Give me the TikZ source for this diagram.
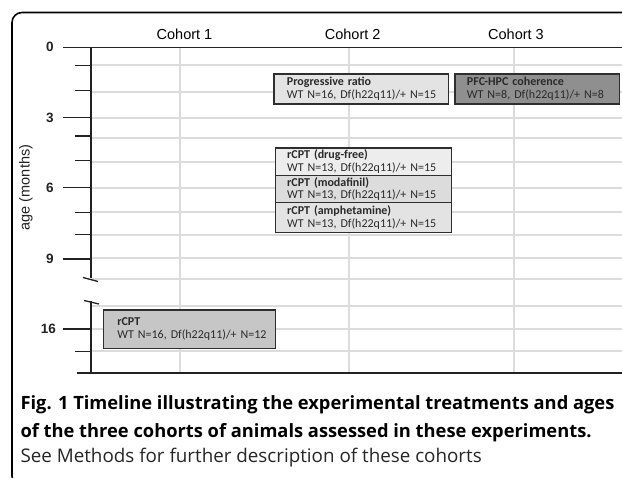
\documentclass[tikz,border=0pt]{standalone}
\usepackage{fontspec}
\setmainfont{Liberation Sans}
\newfontfamily\boxfont{Carlito}
\newfontfamily\capfont{Open Sans}
\definecolor{gridc}{HTML}{DCDCDC}
\definecolor{axisc}{HTML}{222222}
\definecolor{boxline}{HTML}{2E2E2E}
\definecolor{boxtext}{HTML}{2A2A2A}
\definecolor{fpr}{HTML}{E3E3E3}
\definecolor{fpfc}{HTML}{8F8F8F}
\definecolor{fdf}{HTML}{EDEDED}
\definecolor{fmod}{HTML}{DCDCDC}
\definecolor{famph}{HTML}{E3E3E3}
\definecolor{fcone}{HTML}{C6C6C6}
\begin{document}
\begin{tikzpicture}[x=1pt,y=-1pt,
  gridline/.style={gridc, line width=1.4pt},
  axisline/.style={axisc, line width=1.3pt},
  tbox/.style={draw=boxline, line width=1.3pt, anchor=north west, inner ysep=0pt,
     align=left, text=boxtext, font=\boxfont\fontsize{12}{12.8}\selectfont},
  cohort/.style={anchor=base, font=\fontsize{14.5}{16}\selectfont},
  num/.style={font=\bfseries\fontsize{13.5}{15}\selectfont, text=axisc},
  capb/.style={anchor=base west, font=\capfont\bfseries\fontsize{18.3}{20}\selectfont},
  capr/.style={anchor=base west, text=black!85, font=\capfont\fontsize{18.8}{20}\selectfont}
]
\useasboundingbox (0,0) rectangle (622,478);
\clip (0,0) rectangle (622,478);
\fill[white] (0,0) rectangle (622,478);
% frame
\draw[line width=1.6pt, rounded corners=10pt] (640,486) -- (12,486) -- (12,12.5) -- (640,12.5);
% grid lines
\foreach \yy in {65,92,118,138,162,188,212,235,258,279,306,329,351}
  \draw[gridline] (91,\yy) -- (622,\yy);
\foreach \xx in {180,349,514}
  \draw[gridline] (\xx,47.3) -- (\xx,373);
% axis
\draw[axisline] (63,47.3) -- (622,47.3);
\draw[axisline] (77,373) -- (622,373);
\draw[axisline] (91,47.3) -- (91,278);
\draw[axisline] (91,301.5) -- (91,373);
\draw[axisline] (83,277.5) -- (98,281.5);
\draw[axisline] (84,300.5) -- (99,304);
\foreach \yy in {117.7,187.5,259,329}
  \draw[axisline] (63,\yy) -- (91,\yy);
\foreach \yy in {65.3,90.7,136,160.7,212.3,234.3,351.7}
  \draw[axisline] (75,\yy) -- (91,\yy);
% axis numbers
\node[num] (n0) at (50,47.3) {0};
\node[num] (n3) at (50,117.7) {3};
\node[num] (n6) at (50,187.5) {6};
\node[num] (n9) at (50,259) {9};
\node[num] (n16) at (48.5,329) {16};
\node[rotate=90, font=\fontsize{14.5}{16}\selectfont, text=axisc] (ylab) at (26,187.5) {age (months)};
% cohort labels
\node[cohort] (c1) at (184.5,39.3) {Cohort 1};
\node[cohort] (c2) at (352.7,39.3) {Cohort 2};
\node[cohort] (c3) at (516,39.3) {Cohort 3};
% boxes
\node[tbox, fill=fpr, minimum height=30pt, text width=148.4pt, inner xsep=13pt] (pr) at (273.3,73.3)
  {\mbox{\textbf{Progressive ratio}}\\\mbox{WT N=16, Df(h22q11)/+ N=15}};
\node[tbox, fill=fpfc, minimum height=30pt, text width=140.7pt, inner xsep=12pt] (pfc) at (454.3,73.3)
  {\mbox{\textbf{PFC-HPC coherence}}\\\mbox{WT N=8, Df(h22q11)/+ N=8}};
\node[tbox, fill=fdf, minimum height=27.4pt, text width=152pt, inner xsep=12pt] (df) at (274.5,147.3)
  {\mbox{\textbf{rCPT (drug-free)}}\\\mbox{WT N=13, Df(h22q11)/+ N=15}};
\node[tbox, fill=fmod, minimum height=27.3pt, text width=152pt, inner xsep=12pt] (mod) at (274.5,174.7)
  {\mbox{\textbf{rCPT (modafinil)}}\\\mbox{WT N=13, Df(h22q11)/+ N=15}};
\node[tbox, fill=famph, minimum height=29.7pt, text width=152pt, inner xsep=12pt] (amph) at (274.5,202)
  {\mbox{\textbf{rCPT (amphetamine)}}\\\mbox{WT N=13, Df(h22q11)/+ N=15}};
\node[tbox, fill=fcone, minimum height=38.4pt, text width=144.3pt, inner xsep=14pt] (rc1) at (102.7,309.3)
  {\mbox{\textbf{rCPT}}\\\mbox{WT N=16, Df(h22q11)/+ N=12}};
% caption
\node[capb] (cap1) at (17,410) {Fig. 1 Timeline illustrating the experimental treatments and ages};
\node[capb] (cap2) at (17,437.3) {of the three cohorts of animals assessed in these experiments.};
\node[capr] (cap3) at (17,462.7) {See Methods for further description of these cohorts};
\end{tikzpicture}
\end{document}
